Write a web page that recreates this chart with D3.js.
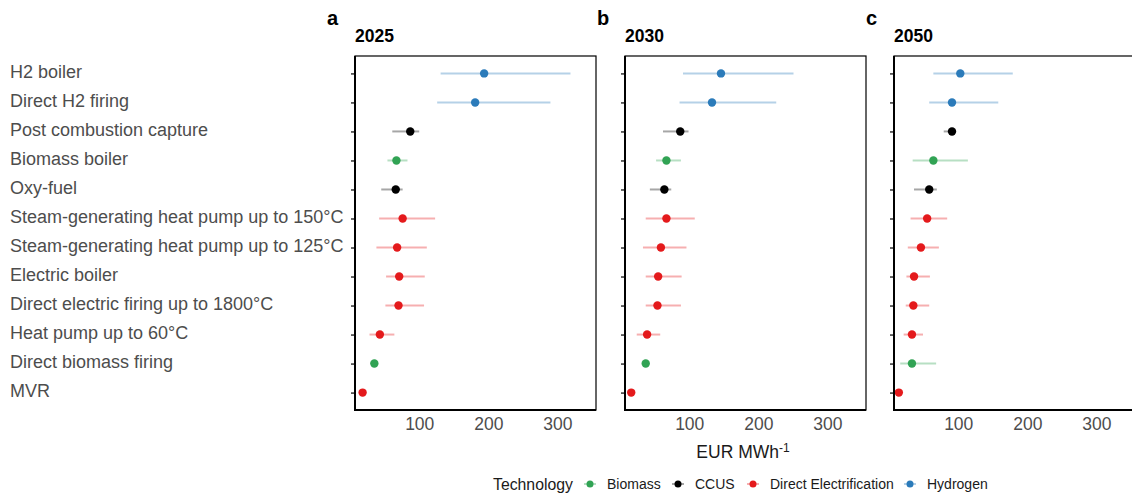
<!DOCTYPE html>
<html>
<head>
<meta charset="utf-8">
<script src="https://cdn.jsdelivr.net/npm/d3@7"></script>
<style>
  body { margin: 0; background: #fff; }
  svg { display: block; font-family: "Liberation Sans", Arial, sans-serif; }
</style>
</head>
<body>
<div class="chart"></div>
<script>
// Technologies, top to bottom
const technologies = [
  "H2 boiler", "Direct H2 firing", "Post combustion capture", "Biomass boiler",
  "Oxy-fuel", "Steam-generating heat pump up to 150°C",
  "Steam-generating heat pump up to 125°C", "Electric boiler",
  "Direct electric firing up to 1800°C", "Heat pump up to 60°C",
  "Direct biomass firing", "MVR"
];
const groups = [
  "Hydrogen", "Hydrogen", "CCUS", "Biomass", "CCUS", "Direct Electrification",
  "Direct Electrification", "Direct Electrification", "Direct Electrification",
  "Direct Electrification", "Biomass", "Direct Electrification"
];

const years = ["2025", "2030", "2050"];
const panelLetters = ["a", "b", "c"];

// central estimate and low / high range, EUR per MWh
const mid2025 = [194, 181, 87, 67, 66, 76, 68, 71, 70, 43, 35, 18];
const low2025 = [131, 126, 61, 54, 45, 42, 38, 52, 51, 28, 35, 18];
const high2025 = [319, 290, 100, 83, 76, 123, 111, 108, 107, 64, 35, 18];

const mid2030 = [146, 133, 87, 67, 64, 67, 59, 55, 54, 39, 37, 16];
const low2030 = [91, 86, 62, 52, 43, 37, 33, 37, 37, 24, 37, 16];
const high2030 = [251, 226, 99, 88, 74, 108, 96, 89, 88, 58, 37, 16];

const mid2050 = [103, 91, 91, 64, 58, 55, 46, 36, 35, 33, 33, 14];
const low2050 = [64, 58, 79, 34, 36, 31, 27, 25, 24, 21, 16, 14];
const high2050 = [179, 158, 96, 114, 69, 84, 72, 59, 58, 49, 68, 14];

const xTicks = [100, 200, 300];

const legendGroups = ["Biomass", "CCUS", "Direct Electrification", "Hydrogen"];
const groupColors = ["#31a354", "#000000", "#e41a1c", "#2b7bba"];

const series = [
  { mid: mid2025, low: low2025, high: high2025 },
  { mid: mid2030, low: low2030, high: high2030 },
  { mid: mid2050, low: low2050, high: high2050 }
];

const W = 1132, H = 493;
const panelLeft = [355, 625, 894];
const panelW = 241;
const panelTop = 56, panelBottom = 410;

const svg = d3.select(".chart").append("svg")
  .attr("width", W)
  .attr("height", H);

const color = d3.scaleOrdinal().domain(legendGroups).range(groupColors);

const y = d3.scalePoint()
  .domain(technologies)
  .range([panelTop, panelBottom])
  .padding(0.6);

years.forEach((year, p) => {
  const x = d3.scaleLinear()
    .domain([7, 356])
    .range([panelLeft[p], panelLeft[p] + panelW]);

  const data = technologies.map((t, i) => ({
    tech: t,
    group: groups[i],
    mid: series[p].mid[i],
    low: series[p].low[i],
    high: series[p].high[i]
  }));

  const g = svg.append("g");

  // panel letter and year title
  g.append("text")
    .attr("x", panelLeft[p] - 28)
    .attr("y", 25)
    .attr("font-size", 20)
    .attr("font-weight", "bold")
    .text(panelLetters[p]);
  g.append("text")
    .attr("x", panelLeft[p])
    .attr("y", 42)
    .attr("font-size", 17.5)
    .attr("font-weight", "bold")
    .text(year);

  // range lines
  g.selectAll("line.range")
    .data(data)
    .join("line")
    .attr("class", "range")
    .attr("x1", d => x(d.low))
    .attr("x2", d => x(d.high))
    .attr("y1", d => y(d.tech))
    .attr("y2", d => y(d.tech))
    .attr("stroke", d => color(d.group))
    .attr("stroke-opacity", 0.35)
    .attr("stroke-width", 2);

  // points
  g.selectAll("circle")
    .data(data)
    .join("circle")
    .attr("cx", d => x(d.mid))
    .attr("cy", d => y(d.tech))
    .attr("r", 4.2)
    .attr("fill", d => color(d.group));

  // x axis
  const xAxis = g.append("g")
    .attr("transform", `translate(0,${panelBottom})`)
    .call(d3.axisBottom(x).tickValues(xTicks).tickSize(0).tickPadding(8));
  xAxis.select(".domain").remove();
  xAxis.selectAll("text")
    .attr("font-size", 17.5)
    .attr("font-family", "Liberation Sans, Arial, sans-serif")
    .attr("fill", "#4d4d4d");

  // y ticks (labels drawn separately at the far left)
  const yAxis = g.append("g")
    .attr("transform", `translate(${panelLeft[p]},0)`)
    .call(d3.axisLeft(y).tickSize(4).tickFormat(""));
  yAxis.select(".domain").remove();
  yAxis.selectAll("line").attr("stroke", "#333").attr("stroke-width", 1.5);

  // panel border
  g.append("rect")
    .attr("x", panelLeft[p])
    .attr("y", panelTop)
    .attr("width", panelW)
    .attr("height", panelBottom - panelTop)
    .attr("fill", "none")
    .attr("stroke", "#000")
    .attr("stroke-width", 1.2);
  // thicker left and bottom axis lines
  g.append("path")
    .attr("d", `M${panelLeft[p]},${panelTop}V${panelBottom}H${panelLeft[p] + panelW}`)
    .attr("fill", "none")
    .attr("stroke", "#000")
    .attr("stroke-width", 2);
});

// technology labels
svg.append("g")
  .selectAll("text")
  .data(technologies)
  .join("text")
  .attr("x", 10)
  .attr("y", d => y(d) - 1.5)
  .attr("dy", "0.35em")
  .attr("font-size", 18)
  .attr("fill", "#4d4d4d")
  .text(d => d);

// axis title
const title = svg.append("text")
  .attr("x", 743)
  .attr("y", 458)
  .attr("text-anchor", "middle")
  .attr("font-size", 17.5)
  .attr("fill", "#1a1a1a");
title.append("tspan").text("EUR MWh");
title.append("tspan").attr("dy", -6).attr("font-size", 12).text("-1");

// legend
const legend = svg.append("g").attr("transform", "translate(0,484)");
legend.append("text")
  .attr("x", 493)
  .attr("y", 0)
  .attr("dy", "0.35em")
  .attr("font-size", 15.8)
  .attr("fill", "#1a1a1a")
  .text("Technology");

const legendX = [590, 678, 753, 910];
legendGroups.forEach((grp, i) => {
  const item = legend.append("g").attr("transform", `translate(${legendX[i]},0)`);
  item.append("line")
    .attr("x1", -6).attr("x2", 6)
    .attr("stroke", color(grp))
    .attr("stroke-opacity", 0.35)
    .attr("stroke-width", 2);
  item.append("circle").attr("r", 3.5).attr("fill", color(grp));
  item.append("text")
    .attr("x", 17)
    .attr("dy", "0.35em")
    .attr("font-size", 14)
    .attr("fill", "#1a1a1a")
    .text(grp);
});
</script>
</body>
</html>
